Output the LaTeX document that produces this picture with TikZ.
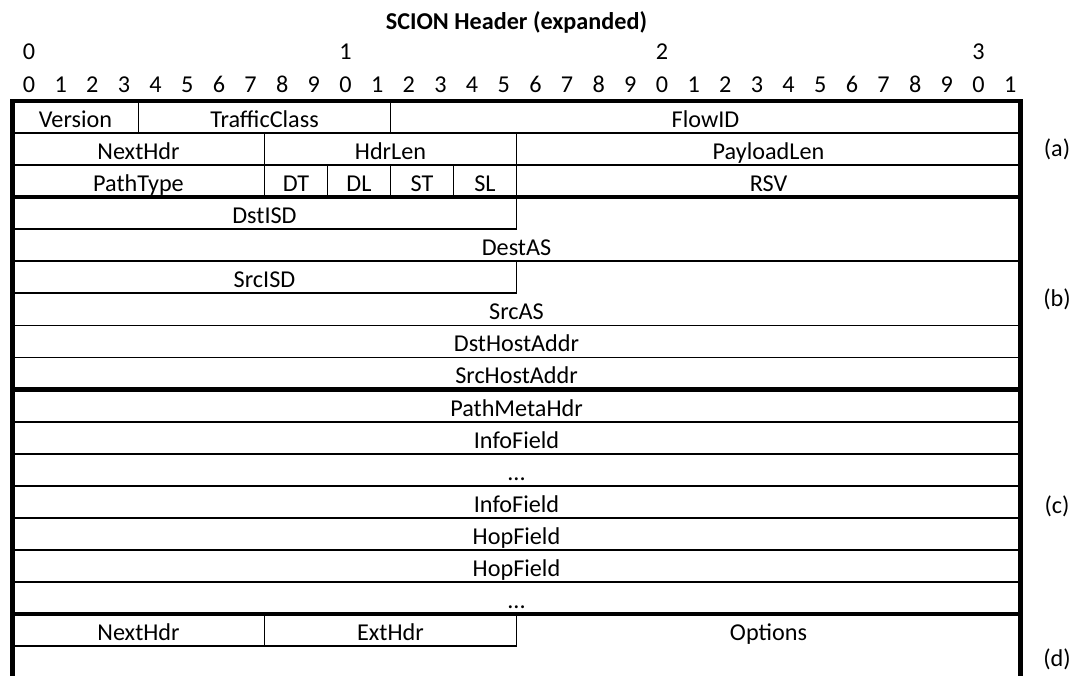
\documentclass[tikz,border=0pt]{standalone}
\usepackage{fontspec}
\setmainfont{Carlito}
\begin{document}
\begin{tikzpicture}[x=1pt,y=-1pt,
  thinrule/.style={line width=1.8pt},
  thickrule/.style={line width=4.5pt},
  lbl/.style={anchor=base, inner sep=0pt, font=\fontsize{24.2}{28}\selectfont},
  ttl/.style={anchor=base, inner sep=0pt, font=\fontsize{24.2}{28}\selectfont\bfseries}]
\useasboundingbox (0,0) rectangle (1070,676);
% geometry: bit b at x = 12.5 + 31.5 b, row boundary k at y = 101 + 32.06 k
\def\L{12.5}\def\R{1020.5}\def\M{516.5}
% title and bit ruler
\node[ttl] (title) at (516.5,30) {SCION Header (expanded)};
\foreach \d in {0,1,2,3}
  \node[lbl] (dec\d) at ({29+31.65*10*\d},60) {\d};
\foreach \i in {0,...,31}{
  \pgfmathtruncatemacro{\dg}{mod(\i,10)}
  \node[lbl] (bit\i) at ({29+31.65*\i},93) {\dg};
}
% full-width thin row rules
\foreach \k in {1,2,5,7,8,10,11,12,13,14,15}
  \draw[thinrule] (\L,{101+32.06*\k}) -- (\R,{101+32.06*\k});
% half-width rules below the 16-bit fields
\foreach \k in {4,6,17}
  \draw[thinrule] (\L,{101+32.06*\k}) -- (\M,{101+32.06*\k});
% section separators
\foreach \k in {3,9,16}
  \draw[thickrule] (\L,{101+32.06*\k}) -- (\R,{101+32.06*\k});
% vertical field separators: row/bit
\foreach \r/\b in {1/4,1/12,2/8,2/16,3/8,3/10,3/12,3/14,3/16,4/16,6/16,17/8,17/16}
  \draw[thinrule] ({12.5+31.5*\b},{101+32.06*(\r-1)}) -- ({12.5+31.5*\b},{101+32.06*\r});
% outer frame, open at the bottom
\draw[thickrule, line join=miter] (\L,680) -- (\L,101) -- (\R,101) -- (\R,680);
% field labels
\def\base#1{101+32.06*(#1-1)+26.5}
\node[lbl] (version) at ({12.5+31.5*2},{\base{1}}) {Version};
\node[lbl] (tclass) at ({12.5+31.5*8},{\base{1}}) {TrafficClass};
\node[lbl] (flowid) at ({12.5+31.5*22},{\base{1}}) {FlowID};
\node[lbl] (nexthdr) at ({12.5+31.5*4},{\base{2}}) {NextHdr};
\node[lbl] (hdrlen) at ({12.5+31.5*12},{\base{2}}) {HdrLen};
\node[lbl] (paylen) at ({12.5+31.5*24},{\base{2}}) {PayloadLen};
\node[lbl] (pathtype) at ({12.5+31.5*4},{\base{3}}) {PathType};
\node[lbl] (dt) at ({12.5+31.5*9},{\base{3}}) {DT};
\node[lbl] (dl) at ({12.5+31.5*11},{\base{3}}) {DL};
\node[lbl] (st) at ({12.5+31.5*13},{\base{3}}) {ST};
\node[lbl] (sl) at ({12.5+31.5*15},{\base{3}}) {SL};
\node[lbl] (rsv) at ({12.5+31.5*24},{\base{3}}) {RSV};
\node[lbl] (dstisd) at ({12.5+31.5*8},{\base{4}}) {DstISD};
\node[lbl] (destas) at (\M,{\base{5}}) {DestAS};
\node[lbl] (srcisd) at ({12.5+31.5*8},{\base{6}}) {SrcISD};
\node[lbl] (srcas) at (\M,{\base{7}}) {SrcAS};
\node[lbl] (dsthost) at (\M,{\base{8}}) {DstHostAddr};
\node[lbl] (srchost) at (\M,{\base{9}}) {SrcHostAddr};
\node[lbl] (pathmeta) at (\M,{\base{10}}) {PathMetaHdr};
\node[lbl] (info1) at (\M,{\base{11}}) {InfoField};
\node[lbl] (infodots) at (\M,{\base{12}}) {...};
\node[lbl] (info2) at (\M,{\base{13}}) {InfoField};
\node[lbl] (hop1) at (\M,{\base{14}}) {HopField};
\node[lbl] (hop2) at (\M,{\base{15}}) {HopField};
\node[lbl] (hopdots) at (\M,{\base{16}}) {...};
\node[lbl] (extnext) at ({12.5+31.5*4},{\base{17}}) {NextHdr};
\node[lbl] (exthdr) at ({12.5+31.5*12},{\base{17}}) {ExtHdr};
\node[lbl] (options) at ({12.5+31.5*24},{\base{17}}) {Options};
% section tags
\node[lbl] (taga) at (1057,157) {(a)};
\node[lbl] (tagb) at (1057,306) {(b)};
\node[lbl] (tagc) at (1057,513) {(c)};
\node[lbl] (tagd) at (1057,666) {(d)};
\end{tikzpicture}
\end{document}
